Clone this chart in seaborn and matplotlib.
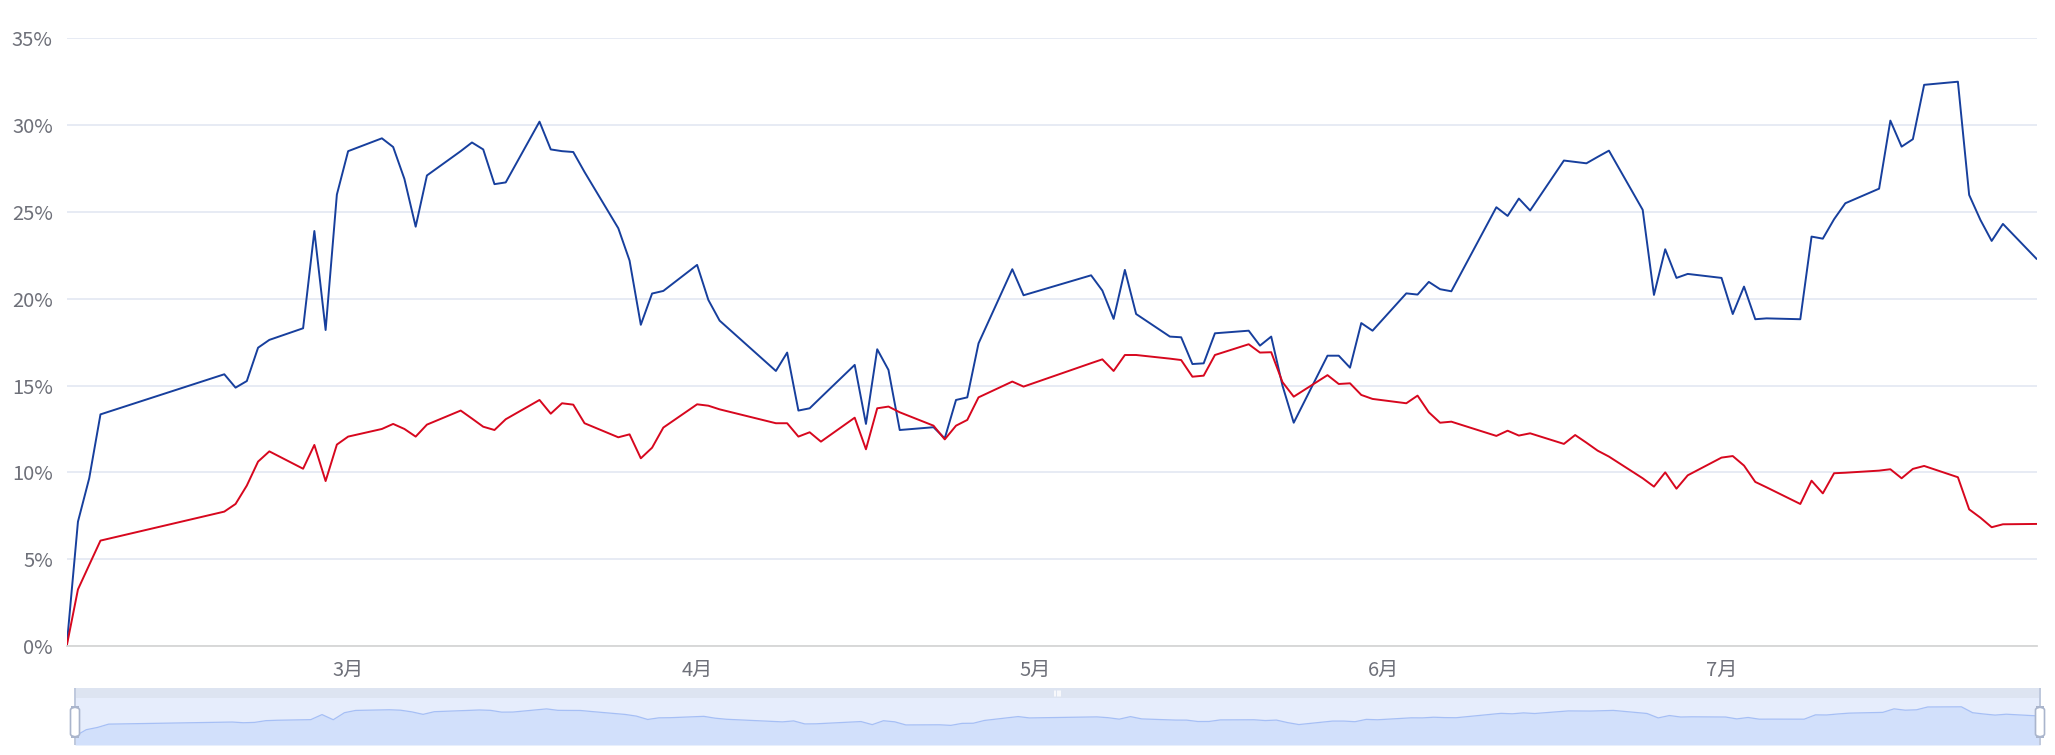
import pandas as pd
import matplotlib
matplotlib.use("Agg")
import matplotlib.pyplot as plt
import matplotlib.dates as mdates
from matplotlib.patches import Rectangle, FancyBboxPatch
from matplotlib.ticker import FuncFormatter
import seaborn as sns

# trading days shown on the chart (2024)
feb_days = [5, 6, 7, 8, 19, 20, 21, 22, 23, 26, 27, 28, 29]
mar_days = [1, 4, 5, 6, 7, 8, 11, 12, 13, 14, 15, 18, 19, 20, 21, 22, 25, 26, 27, 28, 29]
apr_days = [1, 2, 3, 8, 9, 10, 11, 12, 15, 16, 17, 18, 19, 22, 23, 24, 25, 26, 29, 30]
may_days = [6, 7, 8, 9, 10, 13, 14, 15, 16, 17, 20, 21, 22, 23, 24, 27, 28, 29, 30, 31]
jun_days = [3, 4, 5, 6, 7, 11, 12, 13, 14, 17, 18, 19, 20, 21, 24, 25, 26, 27, 28]
jul_days = [1, 2, 3, 4, 5, 8, 9, 10, 11, 12, 15, 16, 17, 18, 19, 22, 23, 24, 25, 26, 29]

# blue series (%)
blue = [
    0, 7.16, 9.66, 13.34, 15.65, 14.88, 15.26, 17.18, 17.63, 18.3, 23.9, 18.2, 26.0,
    28.5, 29.24, 28.74, 26.9, 24.15, 27.1, 28.5, 29.0, 28.6, 26.6, 26.7, 30.2, 28.6,
    28.5, 28.45, 27.3, 24.06, 22.2, 18.5, 20.3, 20.45,
    21.95, 19.93, 18.74, 15.84, 16.9, 13.56, 13.69, 14.32, 16.19, 12.79, 17.09, 15.9,
    12.44, 12.6, 11.96, 14.17, 14.32, 17.43, 21.7, 20.2,
    21.35, 20.47, 18.84, 21.66, 19.12, 17.82, 17.78, 16.24, 16.28, 18.01, 18.16, 17.3,
    17.82, 15.0, 12.86, 16.72, 16.72, 16.03, 18.6, 18.16,
    20.31, 20.24, 20.97, 20.55, 20.43, 25.27, 24.77, 25.77, 25.08, 27.96, 27.88, 27.8,
    28.17, 28.53, 25.12, 20.22, 22.85, 21.2, 21.43,
    21.2, 19.12, 20.7, 18.82, 18.87, 18.82, 23.58, 23.46, 24.58, 25.5, 26.34, 30.26,
    28.76, 29.19, 32.32, 32.5, 25.98, 24.54, 23.33, 24.31, 22.29,
]

# red series (%)
red = [
    0, 3.26, 4.67, 6.07, 7.74, 8.18, 9.24, 10.62, 11.21, 10.21, 11.58, 9.5, 11.6,
    12.06, 12.5, 12.79, 12.5, 12.06, 12.75, 13.56, 13.1, 12.63, 12.44, 13.06, 14.17,
    13.38, 13.98, 13.9, 12.83, 12.02, 12.19, 10.81, 11.42, 12.58,
    13.92, 13.84, 13.63, 12.83, 12.83, 12.06, 12.31, 11.77, 13.15, 11.33, 13.69, 13.79,
    13.46, 12.69, 11.9, 12.69, 13.02, 14.32, 15.23, 14.94,
    16.29, 16.51, 15.84, 16.76, 16.76, 16.55, 16.47, 15.51, 15.57, 16.76, 17.38, 16.9,
    16.92, 15.2, 14.36, 15.6, 15.09, 15.13, 14.46, 14.23,
    13.98, 14.42, 13.46, 12.86, 12.92, 12.1, 12.4, 12.12, 12.25, 11.64, 12.15, 11.71,
    11.25, 10.91, 9.66, 9.18, 10.0, 9.06, 9.83,
    10.85, 10.94, 10.39, 9.45, 9.14, 8.18, 9.52, 8.79, 9.95, 9.98, 10.1, 10.18,
    9.66, 10.2, 10.37, 9.72, 7.87, 7.39, 6.84, 7.01, 7.03,
]

month_labels = ["3月", "4月", "5月", "6月", "7月"]
y_ticks = [0, 5, 10, 15, 20, 25, 30, 35]

dates = []
for m, days in zip([2, 3, 4, 5, 6, 7], [feb_days, mar_days, apr_days, may_days, jun_days, jul_days]):
    dates += [pd.Timestamp(2024, m, d) for d in days]
df = pd.DataFrame({"date": dates, "blue": blue, "red": red})

sns.set_theme(style="white")
plt.rcParams["font.family"] = ["Noto Sans CJK SC", "DejaVu Sans"]

W, H = 2055, 755
fig = plt.figure(figsize=(W / 100, H / 100), dpi=100)

# main plot area (pixel box: left 67, right 2037, top 38, bottom 646)
ax = fig.add_axes([66.7 / W, (H - 646) / H, (2036.7 - 66.7) / W, (646 - 38.3) / H])
sns.lineplot(data=df, x="date", y="blue", ax=ax, color="#173f9d", linewidth=1.4)
sns.lineplot(data=df, x="date", y="red", ax=ax, color="#d7071e", linewidth=1.4)

ax.set_xlim(df["date"].iloc[0], df["date"].iloc[-1])
ax.set_ylim(0, 35)
ax.set_yticks(y_ticks)
ax.yaxis.set_major_formatter(FuncFormatter(lambda v, p: f"{v:.0f}%"))
ax.grid(axis="y", color="#e0e6f1", linewidth=1.1)
ax.set_axisbelow(True)
month_ticks = [pd.Timestamp(2024, m, 1) for m in [3, 4, 5, 6, 7]]
ax.set_xticks(month_ticks)
ax.set_xticklabels(month_labels)
ax.set_xlabel("")
ax.set_ylabel("")
for s in ["top", "right", "left"]:
    ax.spines[s].set_visible(False)
ax.spines["bottom"].set_color("#d6d6d6")
ax.spines["bottom"].set_linewidth(1.3)
ax.tick_params(axis="y", length=0, pad=10, labelsize=14.5, labelcolor="#6e7079")
ax.tick_params(axis="x", direction="in", length=5, width=1, color="#d6d6d6",
               pad=10, labelsize=14.5, labelcolor="#6e7079")

# data zoom slider
sx0, sx1 = 75, 2040
sl = fig.add_axes([sx0 / W, (H - 745) / H, (sx1 - sx0) / W, 47 / H])
sl.set_facecolor("#e6edfc")
lo, hi = min(blue), max(blue)
off = (hi - lo) * 0.3
sl.fill_between(df["date"], df["blue"], lo - off, color="#d2e0fb", linewidth=0)
sl.plot(df["date"], df["blue"], color="#a6bff5", linewidth=0.9)
sl.set_xlim(df["date"].iloc[0], df["date"].iloc[-1])
sl.set_ylim(lo - off, hi + off)
sl.set_xticks([])
sl.set_yticks([])
for s in sl.spines.values():
    s.set_visible(False)

band = fig.add_axes([sx0 / W, (H - 698) / H, (sx1 - sx0) / W, 10 / H])
band.set_facecolor("#dde4f1")
band.set_xticks([])
band.set_yticks([])
for s in band.spines.values():
    s.set_visible(False)
for dx in [-2.5, 0, 2.5]:
    band.plot([0.5 + dx / (sx1 - sx0)] * 2, [0.25, 0.75], color="white", linewidth=1.1,
              transform=band.transAxes)

# handle lines and handles
for hx in [sx0, sx1]:
    fig.add_artist(Rectangle(((hx - 0.6) / W, (H - 745) / H), 1.2 / W, 57 / H,
                             transform=fig.transFigure, facecolor="#bfc9dd", edgecolor="none"))
    fig.add_artist(FancyBboxPatch(((hx - 4.5) / W, (H - 737) / H), 9 / W, 30 / H,
                                  boxstyle="round,pad=0,rounding_size=0.004",
                                  transform=fig.transFigure, facecolor="white",
                                  edgecolor="#aab5cc", linewidth=1.2))

fig.savefig("out.png", dpi=100)
